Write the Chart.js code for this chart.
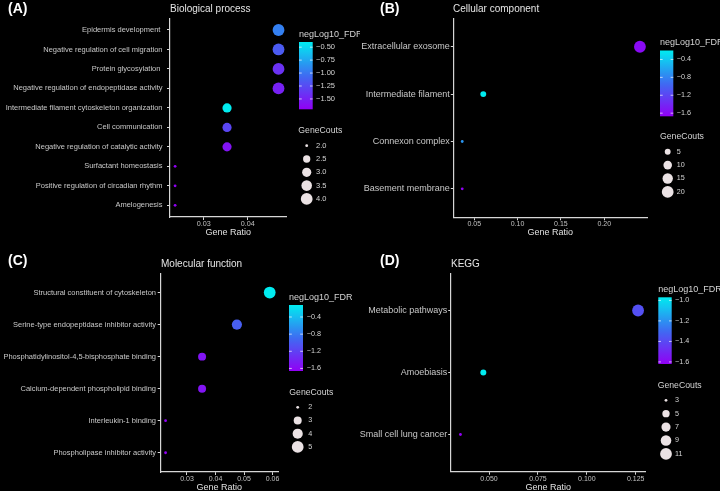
<!DOCTYPE html>
<html>
<head>
<meta charset="utf-8">
<script src="https://cdn.jsdelivr.net/npm/chart.js@4.4.1/dist/chart.umd.min.js"></script>
<style>
html,body{margin:0;padding:0;background:#000;width:720px;height:491px;overflow:hidden;position:relative;}
canvas{position:absolute;display:block;}
.lbl{position:absolute;font-family:"Liberation Sans",Arial,Helvetica,sans-serif;white-space:nowrap;line-height:1;transform:translateY(-50%);}
.letter{font-weight:bold;font-size:14px;color:#ffffff;}
.ptitle{font-size:10px;color:#e4e4e4;}
</style>
</head>
<body>
<canvas id="cA" style="left:0;top:0"></canvas>
<canvas id="cB" style="left:360px;top:0"></canvas>
<canvas id="cC" style="left:0;top:245px"></canvas>
<canvas id="cD" style="left:360px;top:245px"></canvas>
<div class="lbl letter" style="left:8px;top:8px">(A)</div>
<div class="lbl letter" style="left:380px;top:8px">(B)</div>
<div class="lbl letter" style="left:8px;top:260px">(C)</div>
<div class="lbl letter" style="left:380px;top:260px">(D)</div>
<div class="lbl ptitle" style="left:170px;top:9px">Biological process</div>
<div class="lbl ptitle" style="left:453px;top:9px">Cellular component</div>
<div class="lbl ptitle" style="left:161px;top:264px">Molecular function</div>
<div class="lbl ptitle" style="left:451px;top:264px">KEGG</div>
<script>
// ---------------- DATA ----------------
// (A) Biological process
const bpTerms = ["Epidermis development ", "Negative regulation of cell migration", "Protein glycosylation ",
  "Negative regulation of endopeptidase activity", "Intermediate filament cytoskeleton organization",
  "Cell communication", "Negative regulation of catalytic activity", "Surfactant homeostasis",
  "Positive regulation of circadian rhythm", "Amelogenesis"];
const bpRatio = [0.0470, 0.0470, 0.0470, 0.0470, 0.0353, 0.0353, 0.0353, 0.0235, 0.0235, 0.0235];
const bpCounts = [4, 4, 4, 4, 3, 3, 3, 2, 2, 2];
const bpFdr = [-0.95, -1.15, -1.40, -1.50, -0.40, -1.28, -1.58, -1.70, -1.70, -1.70];
const bpRange = [0.02234, 0.04886];
const bpRatioTicks = [0.03, 0.04];
const bpFdrTicks = [-0.50, -0.75, -1.00, -1.25, -1.50];
const bpCountBreaks = [2.0, 2.5, 3.0, 3.5, 4.0];

// (B) Cellular component
const ccTerms = ["Extracellular exosome", "Intermediate filament", "Connexon complex", "Basement membrane"];
const ccRatio = [0.2412, 0.0604, 0.0361, 0.0361];
const ccCounts = [20, 5, 3, 3];
const ccFdr = [-1.60, -0.20, -0.70, -1.67];
const ccRange = [0.0258, 0.2497];
const ccRatioTicks = [0.05, 0.10, 0.15, 0.20];
const ccFdrTicks = [-0.4, -0.8, -1.2, -1.6];
const ccCountBreaks = [5, 10, 15, 20];

// (C) Molecular function
const mfTerms = ["Structural constituent of cytoskeleton", "Serine-type endopeptidase inhibitor activity",
  "Phosphatidylinositol-4,5-bisphosphate binding", "Calcium-dependent phospholipid binding",
  "Interleukin-1 binding", "Phospholipase inhibitor activity"];
const mfRatio = [0.0590, 0.0475, 0.0353, 0.0353, 0.0225, 0.0225];
const mfCounts = [5, 4, 3, 3, 2, 2];
const mfFdr = [-0.12, -0.98, -1.52, -1.52, -1.66, -1.66];
const mfRange = [0.0208, 0.0619];
const mfRatioTicks = [0.03, 0.04, 0.05, 0.06];
const mfFdrTicks = [-0.4, -0.8, -1.2, -1.6];
const mfCountBreaks = [2, 3, 4, 5];

// (D) KEGG
const kgTerms = ["Metabolic pathways", "Amoebiasis", "Small cell lung cancer"];
const kgRatio = [0.1262, 0.0471, 0.0354];
const kgCounts = [11, 4, 3];
const kgFdr = [-1.38, -0.97, -1.62];
const kgRange = [0.03042, 0.1301];
const kgRatioTicks = [0.050, 0.075, 0.100, 0.125];
const kgFdrTicks = [-1.0, -1.2, -1.4, -1.6];
const kgCountBreaks = [3, 5, 7, 9, 11];

// ---------------- STYLE ----------------
const FONT = '"Liberation Sans", Arial, Helvetica, sans-serif';
const AXIS_COL = '#d6d6d6';
const CAT_COL = '#c8c8c8';
const TICK_COL = '#c0c0c0';
const LEG_COL = '#d4d4d4';
const KEY_COL = '#ebe2e4';
const R_MIN = 1.4, R_MAX = 5.9;
const STOPS = [[0, [145, 0, 245]], [0.5, [62, 108, 242]], [1, [0, 236, 240]]];

function gradColor(t) {
  t = Math.max(0, Math.min(1, t));
  for (let i = 1; i < STOPS.length; i++) {
    if (t <= STOPS[i][0]) {
      const [t0, c0] = STOPS[i - 1], [t1, c1] = STOPS[i];
      const u = (t - t0) / (t1 - t0);
      return 'rgb(' + c0.map((c, k) => Math.round(c + (c1[k] - c) * u)).join(',') + ')';
    }
  }
  return 'rgb(' + STOPS[STOPS.length - 1][1].join(',') + ')';
}
function minusFmt(v, dec) {
  const s = Math.abs(v).toFixed(dec);
  return (v < 0 ? '\u2212' : '') + s;
}

function buildPanel(id, d, L) {
  const n = d.terms.length;
  const cMin = Math.min(...d.counts), cMax = Math.max(...d.counts);
  const fLo = Math.min(...d.fdr), fHi = Math.max(...d.fdr);
  const radius = c => R_MIN + (R_MAX - R_MIN) * Math.sqrt((c - cMin) / (cMax - cMin));
  const color = v => gradColor((v - fLo) / (fHi - fLo));
  const pts = d.terms.map((t, i) => ({x: d.ratio[i], y: i + 1}));
  const cv = document.getElementById(id);
  cv.width = L.w; cv.height = L.h;
  cv.style.width = L.w + 'px'; cv.style.height = L.h + 'px';

  const keys = {
    id: 'keys',
    afterDraw(chart) {
      const ctx = chart.ctx;
      const cb = L.cb, sz = L.sz;
      ctx.save();
      ctx.textAlign = 'left';
      ctx.textBaseline = 'middle';
      ctx.fillStyle = LEG_COL;
      ctx.font = '9px ' + FONT;
      ctx.fillText('negLog10_FDR', cb.x, cb.titleY);
      const g = ctx.createLinearGradient(0, cb.bottom, 0, cb.top);
      for (let k = 0; k <= 20; k++) g.addColorStop(k / 20, gradColor(k / 20));
      ctx.fillStyle = g;
      ctx.fillRect(cb.x, cb.top, cb.w, cb.bottom - cb.top);
      const vy = v => cb.bottom - (v - fLo) / (fHi - fLo) * (cb.bottom - cb.top);
      ctx.strokeStyle = 'rgba(255,255,255,0.85)';
      ctx.lineWidth = 0.8;
      ctx.font = L.legTick + 'px ' + FONT;
      ctx.fillStyle = LEG_COL;
      d.fdrTicks.forEach(v => {
        const y = vy(v);
        ctx.beginPath();
        ctx.moveTo(cb.x, y); ctx.lineTo(cb.x + cb.w / 5, y);
        ctx.moveTo(cb.x + cb.w, y); ctx.lineTo(cb.x + cb.w * 4 / 5, y);
        ctx.stroke();
        ctx.fillText(minusFmt(v, d.fdrDec), cb.labelX, y);
      });
      ctx.font = '8.7px ' + FONT;
      ctx.fillStyle = LEG_COL;
      ctx.fillText('GeneCouts', sz.titleX, sz.titleY);
      ctx.font = L.legTick + 'px ' + FONT;
      d.breaks.forEach((b, i) => {
        const y = sz.y0 + i * sz.step;
        ctx.fillStyle = KEY_COL;
        ctx.beginPath();
        ctx.arc(sz.x, y, radius(b), 0, Math.PI * 2);
        ctx.fill();
        ctx.fillStyle = LEG_COL;
        ctx.fillText(b.toFixed(d.breakDec), sz.labelX, y);
      });
      ctx.restore();
    }
  };

  return new Chart(cv, {
    type: 'scatter',
    data: {
      datasets: [{
        data: pts,
        pointRadius: c => radius(d.counts[c.dataIndex]),
        pointHoverRadius: c => radius(d.counts[c.dataIndex]),
        pointBackgroundColor: c => color(d.fdr[c.dataIndex]),
        pointBorderWidth: 0,
        pointHoverBorderWidth: 0
      }]
    },
    options: {
      responsive: false,
      animation: false,
      devicePixelRatio: 1,
      events: [],
      layout: {padding: {left: 0, top: L.area.t, right: L.w - L.area.r, bottom: 0}},
      plugins: {legend: {display: false}, tooltip: {enabled: false}},
      scales: {
        x: {
          type: 'linear',
          min: d.range[0], max: d.range[1],
          afterFit: s => { s.height = L.h - L.area.b; },
          afterBuildTicks: s => { s.ticks = d.xTicks.map(v => ({value: v})); },
          grid: {display: true, drawOnChartArea: false, drawTicks: true, tickLength: 3, color: AXIS_COL, lineWidth: 1},
          border: {display: true, color: AXIS_COL, width: 1.2},
          ticks: {
            autoSkip: false, maxRotation: 0, padding: 0, color: TICK_COL,
            font: {family: FONT, size: L.xTick},
            callback: v => Number(v).toFixed(d.xDec)
          },
          title: {
            display: true, text: 'Gene Ratio', color: '#e0e0e0',
            font: {family: FONT, size: 9},
            padding: {top: 0, bottom: L.h - 5.4 - L.titleY}
          }
        },
        y: {
          type: 'linear', reverse: true, min: 0.4, max: n + 0.6,
          afterFit: s => { s.width = L.area.l; },
          afterBuildTicks: s => { s.ticks = d.terms.map((t, i) => ({value: i + 1})); },
          grid: {display: true, drawOnChartArea: false, drawTicks: true, tickLength: L.yTL, color: AXIS_COL, lineWidth: 1},
          border: {display: true, color: AXIS_COL, width: 1.2},
          ticks: {
            autoSkip: false, padding: L.yPad, color: CAT_COL,
            font: {family: FONT, size: L.catFont},
            callback: v => d.terms[Math.round(v) - 1]
          }
        }
      }
    },
    plugins: [keys]
  });
}

buildPanel('cA',
  {terms: bpTerms, ratio: bpRatio, counts: bpCounts, fdr: bpFdr, range: bpRange, xTicks: bpRatioTicks, xDec: 2,
   fdrTicks: bpFdrTicks, fdrDec: 2, breaks: bpCountBreaks, breakDec: 1},
  {w: 360, h: 245, area: {l: 170, r: 286.7, t: 18.3, b: 217}, catFont: 7.5, xTick: 7.2, legTick: 7.5, yTL: 3, yPad: 4.5, titleY: 232.8,
   cb: {x: 299, w: 13.7, top: 42, bottom: 109.3, titleY: 34.3, labelX: 316},
   sz: {titleX: 298.3, titleY: 130.7, x: 306.7, y0: 145.7, step: 13.3, labelX: 316}});

buildPanel('cB',
  {terms: ccTerms, ratio: ccRatio, counts: ccCounts, fdr: ccFdr, range: ccRange, xTicks: ccRatioTicks, xDec: 2,
   fdrTicks: ccFdrTicks, fdrDec: 1, breaks: ccCountBreaks, breakDec: 0},
  {w: 360, h: 245, area: {l: 93.3, r: 287.3, t: 18.3, b: 217.3}, catFont: 9, xTick: 7, legTick: 7.2, yTL: 2.5, yPad: 1, titleY: 232.3,
   cb: {x: 300, w: 13.3, top: 50.5, bottom: 116.3, titleY: 42.3, labelX: 316.7},
   sz: {titleX: 300, titleY: 136.7, x: 307.7, y0: 151.7, step: 13.4, labelX: 316.7}});

buildPanel('cC',
  {terms: mfTerms, ratio: mfRatio, counts: mfCounts, fdr: mfFdr, range: mfRange, xTicks: mfRatioTicks, xDec: 2,
   fdrTicks: mfFdrTicks, fdrDec: 1, breaks: mfCountBreaks, breakDec: 0},
  {w: 360, h: 256, area: {l: 160.7, r: 278, t: 28.3, b: 227}, catFont: 7.5, xTick: 7, legTick: 7.2, yTL: 3, yPad: 1.7, titleY: 242.7,
   cb: {x: 289, w: 14, top: 60, bottom: 126, titleY: 52.3, labelX: 306.7},
   sz: {titleX: 289.3, titleY: 147.3, x: 297.7, y0: 162.3, step: 13.2, labelX: 308.3}});

buildPanel('cD',
  {terms: kgTerms, ratio: kgRatio, counts: kgCounts, fdr: kgFdr, range: kgRange, xTicks: kgRatioTicks, xDec: 3,
   fdrTicks: kgFdrTicks, fdrDec: 1, breaks: kgCountBreaks, breakDec: 0},
  {w: 360, h: 256, area: {l: 90.7, r: 285.7, t: 28.3, b: 226.7}, catFont: 9, xTick: 7, legTick: 7.2, yTL: 2.5, yPad: 1, titleY: 242.7,
   cb: {x: 298.3, w: 13.4, top: 52.3, bottom: 119, titleY: 45, labelX: 315},
   sz: {titleX: 297.7, titleY: 140.7, x: 306, y0: 155.3, step: 13.4, labelX: 315}});
</script>
</body>
</html>
